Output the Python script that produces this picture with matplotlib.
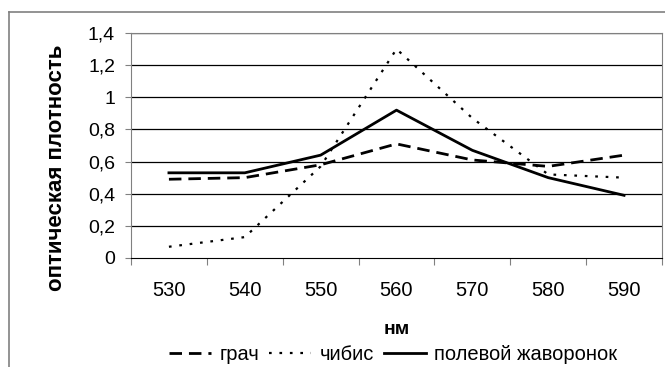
import numpy as np
import matplotlib.pyplot as plt
from matplotlib.lines import Line2D

plt.rcParams['font.family'] = ['Liberation Sans', 'DejaVu Sans']

# data
wavelengths = ['530', '540', '550', '560', '570', '580', '590']
grach = [0.49, 0.50, 0.58, 0.71, 0.61, 0.57, 0.64]
chibis = [0.07, 0.13, 0.57, 1.30, 0.87, 0.52, 0.50]
zhavoronok = [0.53, 0.53, 0.64, 0.92, 0.67, 0.50, 0.39]
y_ticks = [0, 0.2, 0.4, 0.6, 0.8, 1.0, 1.2, 1.4]
y_tick_labels = ['0', '0,2', '0,4', '0,6', '0,8', '1', '1,2', '1,4']

fig = plt.figure(figsize=(6.65, 3.67), dpi=100)
ax = fig.add_axes([131/665, 1 - 258/367, 531/665, 225/367])

x = np.arange(len(wavelengths))
ax.plot(x, grach, color='black', lw=2, dashes=(4.5, 2.5), label='грач')
ax.plot(x, chibis, color='black', lw=1.6, dashes=(1.2, 3.5), label='чибис')
ax.plot(x, zhavoronok, color='black', lw=2, label='полевой жаворонок')

ax.set_xlim(-0.5, len(wavelengths) - 0.5)
ax.set_ylim(0, 1.4)

# category axis: tick marks between categories, labels at centres
ax.set_xticks(np.arange(-0.5, len(wavelengths)), labels=[''] * (len(wavelengths) + 1))
ax.set_xticks(x, labels=wavelengths, minor=True)
ax.tick_params(axis='x', which='major', length=5, color='#808080', direction='out')
ax.tick_params(axis='x', which='minor', length=0, pad=16.5, labelsize=14.5)

ax.set_yticks(y_ticks, labels=y_tick_labels)
ax.tick_params(axis='y', length=4.5, color='#808080', labelsize=14, pad=7)

for v in y_ticks[1:]:
    ax.axhline(v, color='black', lw=0.9, zorder=0)

for side in ['left', 'right', 'top', 'bottom']:
    ax.spines[side].set_color('#808080')
ax.spines['bottom'].set_color('black')

ax.set_ylabel('оптическая плотность', fontsize=16, fontweight='bold', va='center')
ax.yaxis.set_label_coords((57 - 131) / 531, (258 - 168) / 225)
ax.set_xlabel('нм', fontsize=14, fontweight='bold', va='center')
ax.xaxis.set_label_coords((397 - 131) / 531, -(330 - 258) / 225)

ax.legend(loc='center', bbox_to_anchor=((393 - 131) / 531, -(355 - 258) / 225), ncol=3,
          frameon=False, fontsize=14.5, handlelength=2.1, handletextpad=0.4,
          columnspacing=0.5, borderaxespad=0, borderpad=0)

# outer chart frame (left and top edges visible)
fig.add_artist(Line2D([9/665, 9/665], [0, 1 - 12/367], color='#808080', lw=1.2))
fig.add_artist(Line2D([9/665, 1], [1 - 12/367, 1 - 12/367], color='#808080', lw=1.2))

fig.savefig('out.png', dpi=100)
